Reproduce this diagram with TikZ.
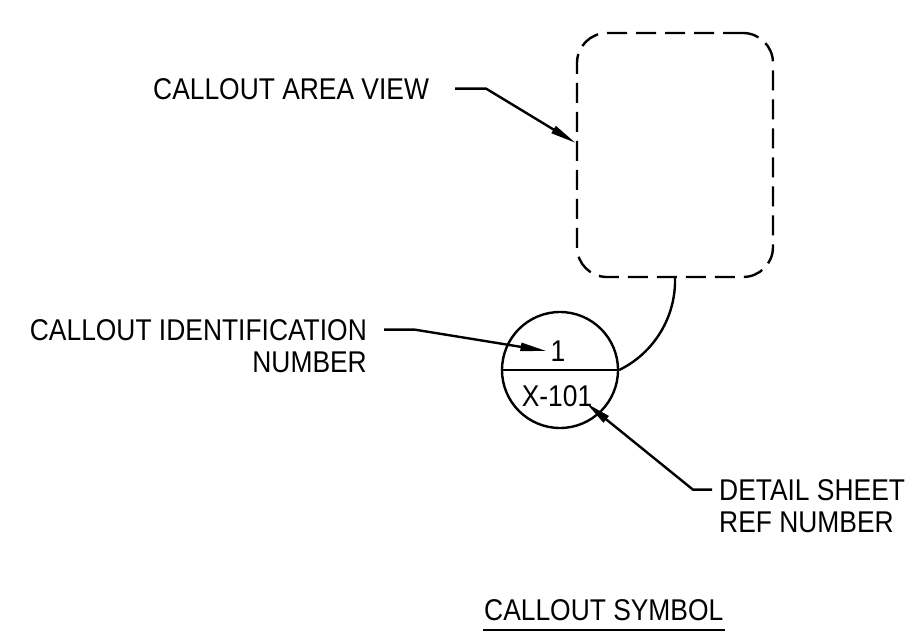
\documentclass[tikz,border=0pt]{standalone}
\usepackage{fontspec}
\setmainfont{Liberation Sans}[FakeStretch=0.88]
\usetikzlibrary{arrows.meta}
\begin{document}
\begin{tikzpicture}[x=1pt,y=-1pt,
  line width=2.4pt,
  lbl/.style={inner sep=0pt, font=\fontsize{30}{32}\selectfont},
  leader/.style={-{Triangle[length=26pt,width=8pt]}, line join=miter},
  viewbox/.style={draw, dash pattern=on 20pt off 9pt, rounded corners=30pt,
    minimum width=196pt, minimum height=244pt, inner sep=0pt},
  bubble/.style={draw, circle, minimum size=116pt, inner sep=0pt}]
\useasboundingbox (0,0) rectangle (906,640);

\node[viewbox] (view) at (675,155) {};
\node[bubble] (callout) at (560,370) {};
\draw (callout.west) -- (callout.east);
\node[lbl] (num) at (558,351) {1};
\node[lbl] (sheet) at (557,396) {X-101};
\draw (callout.east) .. controls (654,353) and (676,317) .. (view.south);

\node[lbl, anchor=base west] (areaTxt) at (152,99) {CALLOUT AREA VIEW};
\coordinate (areaTip) at ([yshift=12pt]view.west);
\draw[leader] ([xshift=25pt]areaTxt.east) -- ++(31,0) -- (areaTip);

\node[lbl, anchor=base east] (idTxt) at (368,340) {CALLOUT IDENTIFICATION};
\node[lbl, anchor=base east] (idTxt2) at (368,372) {NUMBER};
\draw[leader] ([xshift=16pt]idTxt.east) -- ++(31,0) -- ([xshift=-3pt]num.west);

\node[lbl, anchor=base west] (detTxt) at (718,500) {DETAIL SHEET};
\node[lbl, anchor=base west] (detTxt2) at (718,532) {REF NUMBER};
\coordinate (detTip) at (586,403);
\draw[leader] ([xshift=-6pt]detTxt.west) -- ++(-19,0) -- (detTip);

\node[lbl, anchor=base west] (symTxt) at (483,620) {CALLOUT SYMBOL};
\draw ([yshift=-10pt]symTxt.base west) -- ([yshift=-10pt]symTxt.base east);
\end{tikzpicture}
\end{document}
